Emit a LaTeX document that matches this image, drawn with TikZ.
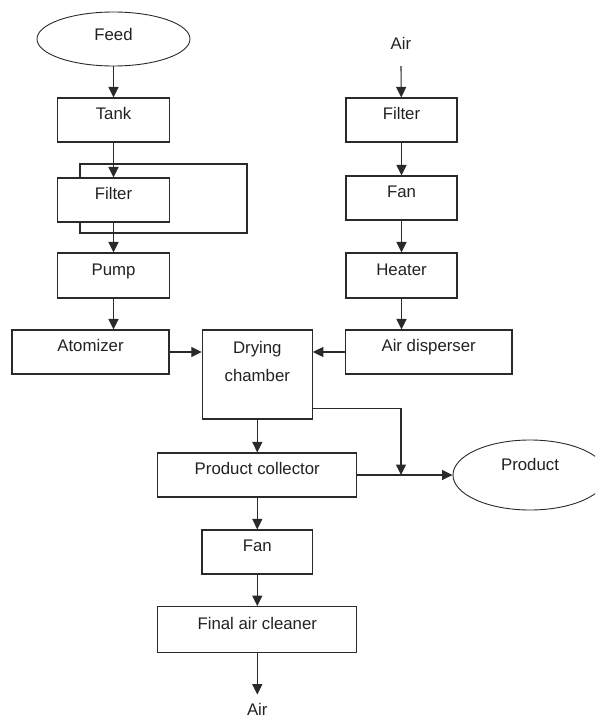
\documentclass[tikz,border=0pt]{standalone}
\usepackage{fontspec}
\setmainfont{Liberation Sans}
\usetikzlibrary{arrows.meta,shapes.geometric}
\definecolor{ink}{HTML}{2A2A2A}
\definecolor{txt}{HTML}{222222}
\begin{document}
\begin{tikzpicture}[x=1pt,y=-1pt,
  every node/.style={font=\fontsize{16.8}{28}\selectfont, text=txt},
  box/.style={draw=ink, line width=1.1pt, fill=white, rectangle, inner sep=0pt,
    minimum height=44pt, text height=12pt, text depth=12.6pt},
  oval/.style={draw=ink, line width=0.9pt, fill=white, ellipse, inner sep=0pt},
  arr/.style={draw=ink, line width=1.1pt, -{Triangle[length=10.5pt,width=10pt]}},
  plain/.style={draw=ink, line width=1.1pt}]
\useasboundingbox (0,0) rectangle (595,718);
\clip (0,0) rectangle (595,718);
% left column
\node[oval, minimum width=153pt, minimum height=54pt, text height=12pt, text depth=10pt] (feed) at (113.5,39) {Feed};
\node[box, minimum width=112pt] (tank) at (113.5,120) {Tank};
\node[draw=ink, line width=1.1pt, rectangle, inner sep=0pt, minimum width=167pt, minimum height=69pt] (loop) at (163.5,198.5) {};
\node[box, minimum width=112pt] (filt1) at (113.5,200) {Filter};
\node[box, minimum width=112pt, minimum height=45pt] (pump) at (113.5,275.5) {Pump};
\node[box, minimum width=157pt] (atom) at (90.5,352) {Atomizer};
% centre
\node[box, minimum width=110pt, minimum height=89pt, text height=0pt, text depth=0pt,
  label={[anchor=north, align=center, inner sep=0pt, yshift=-11.5pt, text=txt, font=\fontsize{16.8}{28}\selectfont]north:{Drying\\chamber}}] (dc) at (257.3,374.5) {};
% right column
\node[inner sep=0pt, anchor=base] (airtop) at (401,49) {Air};
\node[box, minimum width=111pt] (filt2) at (401.5,120) {Filter};
\node[box, minimum width=111pt] (fan1) at (401.5,198) {Fan};
\node[box, minimum width=111pt, minimum height=45pt] (heat) at (401.5,275.5) {Heater};
\node[box, minimum width=166.6pt] (disp) at (428.7,352) {Air disperser};
% bottom
\node[box, minimum width=199pt] (pc) at (257.3,475) {Product collector};
\node[oval, minimum width=154pt, minimum height=70pt, text height=10pt, text depth=19.4pt] (prod) at (530,475) {Product};
\node[box, minimum width=110.6pt] (fan2) at (257.3,552) {Fan};
\node[box, minimum width=199pt, minimum height=45.6pt] (fac) at (257.3,629.5) {Final air cleaner};
\node[inner sep=0pt, anchor=base] (airbot) at (257.3,715) {Air};
\coordinate (j) at (401,475);
% connectors
\draw[arr] (feed) -- (tank);
\draw[arr] (tank) -- (filt1);
\draw[arr] (filt1) -- (pump);
\draw[arr] (pump.south) -- (pump.south |- atom.north);
\draw[arr] ([yshift=-17pt]airtop.south) -- (filt2);
\draw[arr] (filt2) -- (fan1);
\draw[arr] (fan1) -- (heat);
\draw[arr] (heat.south) -- (heat.south |- disp.north);
\draw[arr] (atom.east) -- (atom.east -| dc.west);
\draw[arr] (disp.west) -- (disp.west -| dc.east);
\draw[arr] (dc) -- (pc);
\draw[arr] ([yshift=11.5pt]dc.south east) -| (j);
\draw[arr] (pc) -- (prod);
\draw[arr] (pc) -- (fan2);
\draw[arr] (fan2) -- (fac);
\draw[arr] (fac.south) -- ([yshift=8pt]airbot.north);
\end{tikzpicture}
\end{document}
